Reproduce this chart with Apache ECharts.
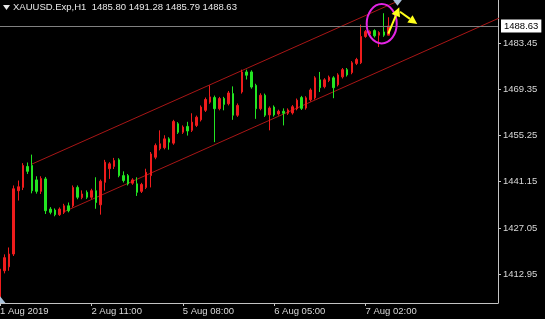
<!DOCTYPE html>
<html><head><meta charset="utf-8">
<script src="https://cdn.jsdelivr.net/npm/echarts@6/dist/echarts.min.js"></script>
<style>html,body{margin:0;padding:0;background:#000;}#c{width:545px;height:319px;}</style>
</head><body><div id="c"></div>
<script>
const symbolTitle = 'XAUUSD.Exp,H1';
const lastQuote = ['1485.80', '1491.28', '1485.79', '1488.63'];
const tickIndex = [0, 20, 40, 60, 80];
const tickLabels = ['1 Aug 2019', '2 Aug 11:00', '5 Aug 08:00', '6 Aug 05:00', '7 Aug 02:00'];
const priceTicks = [1412.95, 1427.05, 1441.15, 1455.25, 1469.35, 1483.45];
const currentPrice = 1488.63;
// [open, close, low, high] per hourly bar
const candles = [
  [1405.8,1414.5,1403.5,1415.2],[1414.0,1418.0,1413.2,1419.0],[1415.2,1419.1,1414.0,1421.1],[1419.1,1439.0,1418.5,1440.0],
  [1438.4,1439.6,1435.4,1441.5],[1439.4,1446.1,1438.6,1446.8],[1445.8,1444.3,1443.5,1447.0],[1446.1,1438.4,1437.6,1449.4],
  [1441.7,1438.2,1437.5,1442.8],[1438.2,1442.1,1437.4,1442.8],[1442.0,1432.3,1431.3,1442.6],[1432.8,1431.8,1431.2,1433.4],
  [1432.5,1431.1,1430.6,1433.0],[1431.1,1432.8,1430.7,1433.3],[1431.8,1433.8,1431.3,1434.4],[1433.8,1432.3,1431.8,1434.8],
  [1433.8,1439.4,1433.3,1440.0],[1439.4,1436.4,1435.8,1440.0],[1436.3,1437.4,1435.8,1438.5],[1437.9,1436.4,1435.9,1438.5],
  [1436.4,1438.4,1435.9,1439.0],[1438.4,1434.8,1432.9,1442.5],[1434.1,1441.3,1431.1,1441.8],[1440.95,1447.1,1438.4,1447.8],
  [1445.1,1446.6,1442.0,1447.1],[1445.8,1447.6,1445.0,1448.4],[1447.8,1443.0,1442.5,1448.3],[1443.0,1441.5,1440.9,1444.3],
  [1443.0,1440.5,1440.0,1443.5],[1440.7,1441.7,1440.2,1442.2],[1440.5,1437.9,1436.8,1442.5],[1438.2,1440.3,1437.7,1440.8],
  [1439.4,1444.0,1438.9,1445.1],[1443.0,1449.6,1439.4,1450.2],[1448.6,1452.2,1448.0,1452.8],[1451.2,1452.7,1450.7,1456.8],
  [1451.5,1454.2,1451.0,1455.3],[1454.2,1453.2,1450.9,1454.7],[1452.9,1459.5,1452.4,1460.0],[1458.8,1456.2,1455.7,1459.3],
  [1456.2,1457.8,1455.7,1458.3],[1458.0,1456.6,1455.2,1459.4],[1456.8,1459.3,1456.3,1462.0],[1458.3,1460.8,1457.8,1461.3],
  [1460.0,1463.9,1459.5,1464.4],[1462.9,1466.2,1462.4,1466.8],[1465.4,1467.0,1464.9,1470.5],[1466.8,1463.4,1453.2,1467.4],
  [1463.4,1466.5,1462.9,1467.0],[1466.5,1464.7,1462.9,1467.0],[1464.9,1468.2,1464.4,1468.8],[1468.0,1461.4,1460.0,1470.2],
  [1461.4,1464.4,1460.9,1465.0],[1468.5,1474.6,1468.0,1475.3],[1474.6,1473.6,1472.3,1475.3],[1474.6,1470.0,1469.5,1475.1],
  [1470.5,1463.4,1460.3,1471.0],[1463.4,1467.5,1462.9,1468.1],[1467.5,1461.4,1460.9,1468.0],[1461.5,1463.6,1456.8,1464.1],
  [1463.9,1461.5,1461.0,1464.4],[1461.8,1462.6,1461.3,1463.1],[1462.6,1462.0,1458.3,1463.5],[1462.0,1463.0,1461.5,1463.5],
  [1462.1,1464.0,1461.6,1464.5],[1463.4,1466.0,1462.9,1466.5],[1466.8,1463.5,1463.0,1467.3],[1463.6,1466.7,1463.1,1467.2],
  [1466.1,1469.1,1465.6,1469.6],[1466.7,1472.8,1466.2,1473.3],[1472.2,1469.8,1468.5,1474.6],[1470.1,1472.2,1469.6,1472.7],
  [1472.0,1473.0,1471.5,1473.5],[1472.8,1469.8,1466.6,1473.3],[1470.7,1473.7,1470.2,1474.2],[1473.1,1475.3,1472.6,1475.8],
  [1475.3,1473.7,1473.2,1475.8],[1474.4,1477.4,1473.9,1477.9],[1477.2,1478.4,1476.7,1478.9],[1477.4,1485.4,1477.0,1489.0],
  [1485.4,1486.9,1485.0,1487.4],[1486.2,1486.9,1485.7,1487.3],[1487.2,1485.6,1485.1,1487.6],[1485.8,1486.6,1482.2,1487.0],
  [1486.8,1485.8,1485.3,1492.5],[1485.80,1488.63,1485.79,1491.28]
];
const upperChannel = [[6.8, 1446.4], [100, 1504.2]];
const lowerChannel = [[13.8, 1431.85], [115, 1494.6]];
// annotation anchors in (bar index, price)
const circleBox = {left: 80.26, right: 86.83, top: 1495.3, bottom: 1483.3};
const arrowUp = [[84.99, 1486.3], [87.39, 1494.3]];
const arrowRight = [[87.55, 1492.95], [91.33, 1489.2]];
const topMarker = [[86.0, 1496.6], [88.0, 1496.6], [87.0, 1494.8]];
const bottomMarker = [[0, 1406.2], [0, 1404.17], [1.2, 1404.17]];

const FONT = 'Liberation Sans';
const chart = echarts.init(document.getElementById('c'), null, {renderer: 'canvas'});
const data = candles.map((c, i) => [i, c[0], c[1], c[2], c[3]]);
const header = [
  {type: 'polygon', shape: {points: [[3, 5], [10, 5], [6.5, 10]]}, style: {fill: '#e8e8e8'}},
  {type: 'text', left: 13, top: 2, style: {text: symbolTitle + '  ' + lastQuote.join(' '), fill: '#e8e8e8', font: '9.5px "' + FONT + '"'}}
];

chart.setOption({
  backgroundColor: '#000',
  animation: false,
  grid: {left: 0, right: 47, top: 0, bottom: 16, containLabel: false, outerBoundsMode: 'none'},
  xAxis: {
    type: 'value', min: 0, max: 109,
    splitLine: {show: false},
    axisLine: {show: true, onZero: false, lineStyle: {color: '#c4c4c4', width: 1}},
    axisTick: {show: true, length: 3, lineStyle: {color: '#c4c4c4'}, customValues: tickIndex},
    axisLabel: {
      customValues: tickIndex, color: '#d8d8d8', fontFamily: FONT, fontSize: 9.5, margin: 3, align: 'left',
      formatter: v => tickLabels[tickIndex.indexOf(Math.round(v))] || ''
    }
  },
  yAxis: {
    type: 'value', position: 'right', min: 1404.17, max: 1496.53,
    splitLine: {show: false},
    axisLine: {show: true, onZero: false, lineStyle: {color: '#c4c4c4', width: 1}},
    axisTick: {show: true, length: 3, lineStyle: {color: '#c4c4c4'}, customValues: priceTicks},
    axisLabel: {
      customValues: priceTicks, color: '#d8d8d8', fontFamily: FONT, fontSize: 9.5, margin: 5,
      formatter: v => v.toFixed(2)
    }
  },
  series: [
    {
      type: 'candlestick', data: data, barWidth: 2,
      itemStyle: {color: '#ee1c1c', color0: '#22e522', borderColor: '#ee1c1c', borderColor0: '#22e522', borderWidth: 1},
      markLine: {
        silent: true, symbol: 'none', animation: false,
        lineStyle: {color: '#808080', type: 'solid', width: 1},
        label: {
          position: 'end', formatter: currentPrice.toFixed(2), backgroundColor: '#ffffff', color: '#000',
          fontFamily: FONT, fontSize: 9.5, padding: [2, 3, 1, 3], distance: 3
        },
        data: [{yAxis: currentPrice}]
      },
      z: 3
    },
    {type: 'line', data: upperChannel, symbol: 'none', lineStyle: {color: '#a81616', width: 1}, silent: true, z: 2},
    {type: 'line', data: lowerChannel, symbol: 'none', lineStyle: {color: '#a81616', width: 1}, silent: true, z: 2}
  ],
  graphic: header
});

function px(p) { return chart.convertToPixel({gridIndex: 0}, p); }
function arrow(a, b, color) {
  const p1 = px(a), p2 = px(b);
  const dx = p2[0] - p1[0], dy = p2[1] - p1[1], len = Math.hypot(dx, dy);
  const ux = dx / len, uy = dy / len, hl = 9, hw = 4.5;
  const bx = p2[0] - ux * hl, by = p2[1] - uy * hl;
  return [
    {type: 'line', shape: {x1: p1[0], y1: p1[1], x2: bx, y2: by}, style: {stroke: color, lineWidth: 2}, z: 10},
    {type: 'polygon', shape: {points: [[p2[0], p2[1]], [bx - uy * hw, by + ux * hw], [bx + uy * hw, by - ux * hw]]}, style: {fill: color}, z: 10}
  ];
}
const cl = px([circleBox.left, circleBox.top]), cr = px([circleBox.right, circleBox.bottom]);
const extra = [
  {type: 'ellipse', shape: {cx: (cl[0] + cr[0]) / 2, cy: (cl[1] + cr[1]) / 2, rx: (cr[0] - cl[0]) / 2, ry: (cr[1] - cl[1]) / 2},
   style: {fill: 'none', stroke: '#e424e4', lineWidth: 2}, z: 10},
  ...arrow(arrowUp[0], arrowUp[1], '#ffff1a'),
  ...arrow(arrowRight[0], arrowRight[1], '#ffff1a'),
  {type: 'polygon', shape: {points: topMarker.map(px)}, style: {fill: '#a9c2da'}, z: 9},
  {type: 'polygon', shape: {points: bottomMarker.map(px)}, style: {fill: '#a9c2da'}, z: 9}
];
chart.setOption({graphic: header.concat(extra)}, {replaceMerge: ['graphic']});
</script></body></html>
